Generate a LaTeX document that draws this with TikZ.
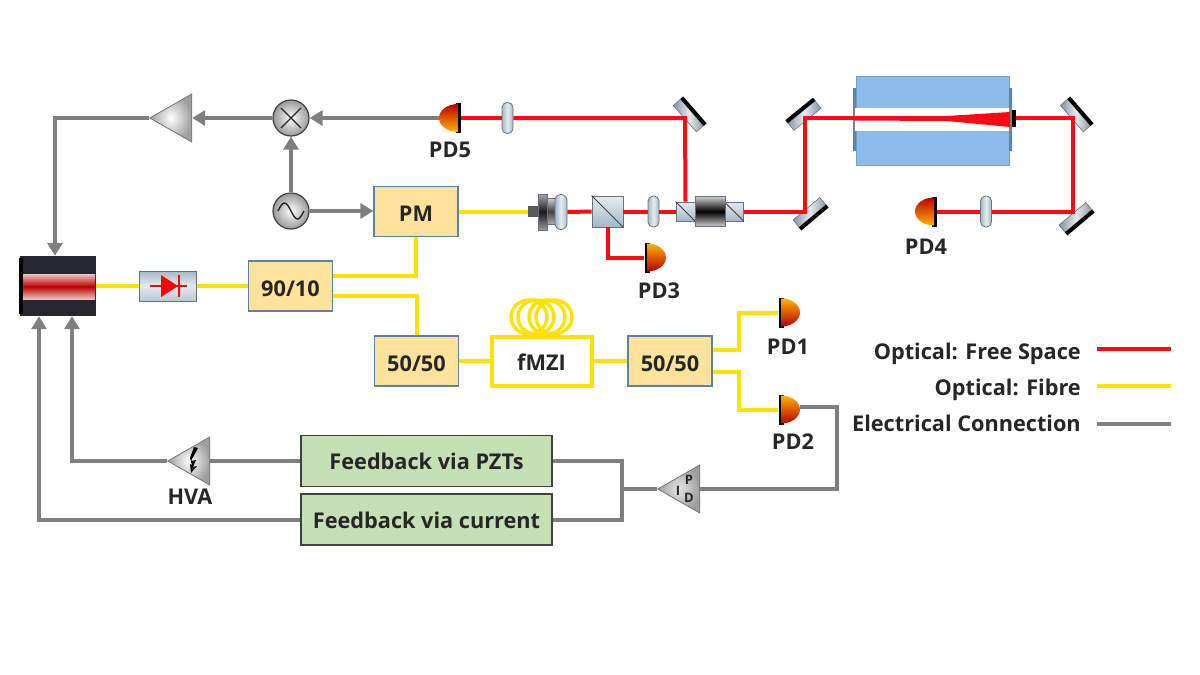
\documentclass[tikz,border=0pt]{standalone}
\usepackage{fontspec}
\setmainfont{Open Sans}
\usetikzlibrary{arrows.meta,shapes.geometric}

\definecolor{wireGray}{HTML}{7F7F7F}
\definecolor{beamRed}{HTML}{FF0A14}
\definecolor{fibreYellow}{HTML}{FFE200}
\definecolor{boxYellow}{HTML}{FFE29C}
\definecolor{boxEdge}{HTML}{5F80A8}
\definecolor{boxGreen}{HTML}{C5E0B4}
\definecolor{cavityBlue}{HTML}{8DBBE9}
\definecolor{partEdge}{HTML}{66727C}
\definecolor{partBlue}{HTML}{A3B8C8}
\definecolor{partLight}{HTML}{E6EBEF}
\definecolor{laserDark}{HTML}{26262E}
\definecolor{laserPink}{HTML}{ECC4C4}

\tikzset{
  label text/.style={font=\fontsize{21.7}{26}\selectfont\bfseries, text=black!85, inner sep=0pt},
  beam/.style={draw=beamRed, line width=4pt},
  fibre/.style={draw=fibreYellow, line width=4pt},
  wire/.style={draw=wireGray, line width=4pt},
  wirearrow/.style={wire, -{Triangle[length=13pt,width=15pt]}},
  couplerbox/.style={rectangle, draw=boxEdge, line width=1.2pt, fill=boxYellow, minimum width=84pt, minimum height=50pt, inner sep=0pt, label text, text height=20pt, text depth=0pt},
  servobox/.style={rectangle, draw=black!75, line width=1.2pt, fill=boxGreen, minimum width=251pt, minimum height=51pt, inner sep=0pt, label text},
  amptri/.style={isosceles triangle, isosceles triangle apex angle=60, isosceles triangle stretches, shape border rotate=180, anchor=apex, minimum width=48pt, minimum height=42pt, inner sep=0pt, draw=black!55, line width=0.8pt, shade, inner color=white, outer color=black!38},
  ringnode/.style={circle, minimum size=36pt, inner sep=0pt, draw=black!75, line width=1.2pt, shade, inner color=white, outer color=black!40},
  pdbar/.style={rectangle, fill=black, minimum width=5pt, minimum height=30pt, inner sep=0pt},
  lensnode/.style={rectangle, rounded corners=5pt, minimum width=11pt, minimum height=31pt, inner sep=0pt, draw=partEdge, line width=0.8pt, left color=partBlue, right color=partBlue, middle color=partLight},
  cubenode/.style={rectangle, draw=partEdge, line width=0.8pt, top color=partLight, bottom color=partBlue, inner sep=0pt},
  mirrornode/.style={rectangle, minimum width=35pt, minimum height=11pt, inner sep=0pt, draw=partEdge, line width=0.6pt, left color=partBlue!80!black, right color=partBlue!80!black, middle color=partLight},
  mirrorback/.style={line width=4pt, draw=black},
}

% photodiode dome: name, sweep of the arc, shading angle
\newcommand{\pddome}[3]{
  \shade[top color=red!72!black, bottom color=orange!60!yellow, shading angle=#3]
    (#1.center) ++(0,-14) arc[start angle=90, delta angle=#2, x radius=19pt, y radius=14pt] -- cycle;
}

\begin{document}
\begin{tikzpicture}[x=1pt,y=-1pt]
\useasboundingbox (0,0) rectangle (1200,675);

% Draw laser head
\node[rectangle, fill=laserDark, minimum width=76pt, minimum height=60pt, inner sep=0pt] (laser) at (58,286) {};
\fill[black] (19,258) rectangle (23,314);
\shade[top color=laserPink, bottom color=red!75!black] (23,274) rectangle (95,286.5);
\shade[top color=red!75!black, bottom color=laserPink] (23,286.5) rectangle (95,299);

% Draw isolator diode
\node[rectangle, draw=partEdge, line width=0.8pt, top color=partBlue, bottom color=partBlue!80!white, middle color=partLight, minimum width=57pt, minimum height=30pt, inner sep=0pt] (diode) at (168,286) {};
\fill[red] (161,275) -- (178,286) -- (161,297) -- cycle;
\draw[red, line width=2pt] (150,286) -- (187,286) (179,275) -- (179,297);

% Draw fibre couplers and modulator
\node[couplerbox] (split) at (290.5,286) {90/10};
\node[couplerbox] (pm) at (416,211.5) {PM};
\node[couplerbox] (fsA) at (416.5,361) {50/50};
\node[couplerbox] (fsB) at (670,361) {50/50};

% Draw fibre interferometer with its coil
\foreach \cx in {529,536,547,554}
  \draw[fibre, line width=3.4pt] (\cx,317) ellipse (18 and 17);
\node[rectangle, draw=fibreYellow, line width=4pt, fill=white, minimum width=100pt, minimum height=49pt, inner sep=0pt, label text, text height=18pt, text depth=0pt] (fmzi) at (541.5,361) {fMZI};

% Draw feedback boxes
\node[servobox] (fbpzt) at (426.5,461) {Feedback via PZTs};
\node[servobox, text height=18pt, text depth=0pt] (fbcur) at (426.5,519.5) {Feedback via current};

% Draw amplifiers
\node[amptri] (amp) at (149,118) {};
\node[amptri] (hva) at (167,461) {};
\node[amptri, inner color=black!10, outer color=black!38] (pid) at (657,489) {};
\fill[black] (198,448) -- (191,461) -- (196,460) -- (193,467) -- (197,466) -- (191,473) -- (190,464) -- (192,465) -- (190,458) -- (194,447) -- cycle;
\node[label text, font=\fontsize{13}{15}\selectfont\bfseries] (pidI) at (678,491) {I};
\node[label text, font=\fontsize{13}{15}\selectfont\bfseries] (pidP) at (689,480) {P};
\node[label text, font=\fontsize{13}{15}\selectfont\bfseries] (pidD) at (689,498) {D};

% Draw mixer and oscillator
\node[ringnode] (mix) at (291,118) {};
\node[ringnode] (osc) at (291,211) {};
\draw[black!85, line width=1.4pt] (mix.center) +(-10,-10) -- +(10,10) (mix.center) +(-10,10) -- +(10,-10);
\draw[black!85, line width=1.4pt] (osc.center) ++(-13,0) sin ++(6.5,-8) cos ++(6.5,8) sin ++(6.5,8) cos ++(6.5,-8);

% Draw photodiodes
\node[pdbar] (pdA) at (781,312.5) {};
\node[pdbar] (pdB) at (781,409.5) {};
\node[pdbar] (pdC) at (647,257.5) {};
\node[pdbar] (pdD) at (934,211.5) {};
\node[pdbar] (pdE) at (458,118) {};
\pddome{pdA}{-180}{180}
\pddome{pdB}{-180}{180}
\pddome{pdC}{-180}{180}
\pddome{pdD}{180}{0}
\pddome{pdE}{180}{0}
\coordinate (pdBout) at (800,407);
\coordinate (pdEout) at (439,118);

% Draw lenses
\node[lensnode] (lensA) at (507.5,118) {};
\node[lensnode] (lensB) at (653.5,211.5) {};
\node[lensnode] (lensC) at (986,211.5) {};

% Draw fibre collimator
\node[rectangle, fill=black!65, minimum width=10pt, minimum height=11pt, inner sep=0pt] (colA) at (533,211.5) {};
\node[rectangle, minimum width=9pt, minimum height=26pt, inner sep=0pt, draw=partEdge, top color=black!20, bottom color=black!30, middle color=black!75] (colD) at (551,211.5) {};
\node[rectangle, minimum width=9pt, minimum height=36pt, inner sep=0pt, draw=partEdge, top color=black!35, bottom color=black!40, middle color=black!90] (colB) at (542.5,212) {};
\node[lensnode, minimum width=12pt, minimum height=35pt, rounded corners=6pt] (colC) at (561,212) {};

% Draw beam splitter and optical isolator
\node[cubenode, minimum width=31pt, minimum height=31pt] (pbs) at (607.5,211.5) {};
\draw[black!75, line width=0.8pt] (pbs.north west) -- (pbs.south east);
\node[cubenode, minimum width=19pt, minimum height=19pt] (isoA) at (685.5,211.5) {};
\node[cubenode, minimum width=19pt, minimum height=19pt] (isoC) at (734,211.5) {};
\draw[black!75, line width=0.8pt] (isoA.north west) -- (isoA.south east) (isoC.north west) -- (isoC.south east);
\node[rectangle, minimum width=30pt, minimum height=30pt, inner sep=0pt, draw=partEdge, top color=black!20, bottom color=black!20, middle color=black] (isoB) at (710,211.5) {};

% Draw mirrors
\node[mirrornode, rotate=-49] (mirA) at (689,115) {};
\node[mirrornode, rotate=39] (mirB) at (804,115) {};
\node[mirrornode, rotate=220] (mirC) at (810,213) {};
\node[mirrornode, rotate=-49] (mirD) at (1076,115) {};
\node[mirrornode, rotate=220] (mirE) at (1076,218) {};
\foreach \m in {mirA,mirB,mirC,mirD,mirE}
  \draw[mirrorback] (\m.north west) -- (\m.north east);

% Draw cavity
\node[rectangle, fill=cavityBlue, draw=cavityBlue!85!black, minimum width=153pt, minimum height=89pt, inner sep=0pt] (cavity) at (932.5,120.5) {};
\fill[cavityBlue!70!black] (853,88) rectangle (856,151) (1009,88) rectangle (1012,151);
\fill[white] (853,108) rectangle (1012,131);
\fill[black!50] (853,108) rectangle (855,131);
\fill[black!50] (1009,108) rectangle (1012,131);
\fill[black] (1012,110) rectangle (1016,127);
\fill[beamRed] (855,116) -- (947,116) -- (1010,112) -- (1010,127) -- (947,121) -- (855,120.5) -- cycle;

% Hit points of the beams on the mirrors
\coordinate (hitA) at (685,118);
\coordinate (hitB) at (805,118);
\coordinate (hitC) at (805,211.5);
\coordinate (hitD) at (1073,118);
\coordinate (hitE) at (1073,211.5);

% Free space beams
\draw[beam] (pdE.east) -- (lensA.west);
\draw[beam] (lensA.east) -- (hitA) -- (isoA.north);
\draw[beam] (colC.east) -- (pbs.west);
\draw[beam] (pbs.east) -- (lensB.west);
\draw[beam] (lensB.east) -- (isoA.west);
\draw[beam] (isoC.east) -- (hitC) -- (hitB) -- (cavity.west |- hitB);
\draw[beam] (1016,118) -- (hitD) -- (hitE) -- (lensC.east);
\draw[beam] (lensC.west) -- (pdD.east);
\draw[beam] (pbs.south) |- (pdC.west);

% Fibre links
\draw[fibre] (laser.east) -- (diode.west);
\draw[fibre] (diode.east) -- (split.west);
\draw[fibre] ([yshift=10pt]split.east) -| (pm.south);
\draw[fibre] ([yshift=-10pt]split.east) -| (fsA.north);
\draw[fibre] (fsA.east) -- (fmzi.west);
\draw[fibre] (fmzi.east) -- (fsB.west);
\draw[fibre] ([yshift=11pt]fsB.east) -- +(26,0) |- (pdA.west);
\draw[fibre] ([yshift=-11pt]fsB.east) -- +(26,0) |- (pdB.west);
\draw[fibre] (pm.east) -- (colA.west);

% Electrical connections
\draw[wirearrow] (pdEout) -- (mix.east);
\draw[wirearrow] (mix.west) -- (amp.lower side);
\draw[wirearrow] (amp.apex) -| ([xshift=-3pt]laser.north);
\draw[wirearrow] (osc.north) -- (mix.south);
\draw[wirearrow] (osc.east) -- (pm.west |- osc.east);
\draw[wire] (fbpzt.west) -- (hva.lower side);
\draw[wirearrow] (hva.apex) -| ([xshift=14pt]laser.south);
\draw[wirearrow] (fbcur.west) -| ([xshift=-19pt]laser.south);
\draw[wire] (fbpzt.east) -- (622,461) -- (622,519.5) -- (fbcur.east);
\draw[wire] (622,489) -- (pid.apex);
\draw[wire] (pid.lower side) -- (837,489) -- (837,407) -- (pdBout);

% Labels
\node[label text] (pdAl) at (788,347) {PD1};
\node[label text] (pdBl) at (793,442) {PD2};
\node[label text] (pdCl) at (659,291) {PD3};
\node[label text] (pdDl) at (926,247) {PD4};
\node[label text] (pdEl) at (450,150) {PD5};
\node[label text] (hval) at (190,497) {HVA};

% Legend
\node[label text, anchor=base east] (legA) at (1081,359) {Optical: Free Space};
\node[label text, anchor=base east] (legB) at (1081,395) {Optical: Fibre};
\node[label text, anchor=base east] (legC) at (1081,431) {Electrical Connection};
\coordinate (legAs) at (1097,349);
\coordinate (legAe) at (1171,349);
\coordinate (legBs) at (1097,386);
\coordinate (legBe) at (1171,386);
\coordinate (legCs) at (1097,424);
\coordinate (legCe) at (1171,424);
\draw[beam] (legAs) -- (legAe);
\draw[fibre] (legBs) -- (legBe);
\draw[wire] (legCs) -- (legCe);

\end{tikzpicture}
\end{document}
